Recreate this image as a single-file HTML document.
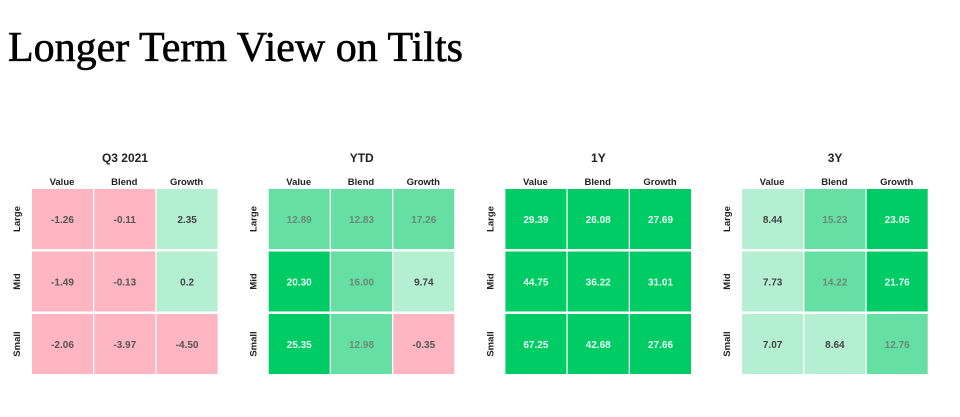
<!DOCTYPE html>
<html><head><meta charset="utf-8"><style>
body{margin:0;width:960px;height:417px;background:#fff;overflow:hidden;font-family:"Liberation Sans",sans-serif;}
h1{position:absolute;left:8px;top:24px;margin:0;font-family:"Liberation Serif",serif;font-weight:normal;font-size:42px;color:#000;-webkit-text-stroke:0.6px #000;}
svg{position:absolute;left:0;top:0;}
</style></head><body>
<h1>Longer Term View on Tilts</h1>
<svg id="chart" width="960" height="417"></svg>
<script>
const panels=["Q3 2021","YTD","1Y","3Y"];
const cols=["Value","Blend","Growth"];
const rows=["Large","Mid","Small"];
const q3=[[-1.26,-0.11,2.35],[-1.49,-0.13,0.2],[-2.06,-3.97,-4.50]];
const ytd=[[12.89,12.83,17.26],[20.30,16.00,9.74],[25.35,12.98,-0.35]];
const y1=[[29.39,26.08,27.69],[44.75,36.22,31.01],[67.25,42.68,27.66]];
const y3=[[8.44,15.23,23.05],[7.73,14.22,21.76],[7.07,8.64,12.76]];
const labels=[["-1.26","-0.11","2.35"],["-1.49","-0.13","0.2"],["-2.06","-3.97","-4.50"]];
const data=[q3,ytd,y1,y3];
const ns="http://www.w3.org/2000/svg";
const svg=document.getElementById('chart');
function px(p,c){return 32+p*236.7+c*62.3;}
function py(r){return 189+r*62.5;}
function style(v){
 if(v<0) return ["#fdb5c2","#555"];
 if(v<10) return ["#b4efd2","#444"];
 if(v<20) return ["#66dfa4","#6a8a78"];
 return ["#00cc66","#e8fff2"];
}
function fmt(p,r,c,v){ if(p===0) return labels[r][c]; return v.toFixed(2); }
function mk(tag,attrs,txt){const e=document.createElementNS(ns,tag);for(const k in attrs)e.setAttribute(k,attrs[k]);if(txt!==undefined)e.textContent=txt;svg.appendChild(e);return e;}
data.forEach((m,p)=>{
 const t=mk('text',{x:px(p,0)+93,y:162,'text-anchor':'middle','font-size':'12','font-weight':'bold',fill:'#222'},panels[p]);
 
 
 cols.forEach((c,ci)=>{
  const e=mk('text',{x:px(p,ci)+30,y:185,'text-anchor':'middle','font-size':'9.5','font-weight':'bold',fill:'#222'},c);
  
  
 });
 rows.forEach((rn,ri)=>{
  const cx=px(p,0)-12, cy=py(ri)+30;
  const e=mk('text',{x:cx,y:cy,'text-anchor':'middle','font-size':'9.5','font-weight':'bold',fill:'#222',transform:`rotate(-90 ${cx} ${cy})`},rn);
  
  
  m[ri].forEach((v,ci)=>{
   const [bg,fg]=style(v);
   const r=mk('rect',{x:px(p,ci),y:py(ri),width:61,height:60,fill:bg});
   
   
   const tx=mk('text',{x:px(p,ci)+30.5,y:py(ri)+34,'text-anchor':'middle','font-size':'10','font-weight':'bold',fill:fg},fmt(p,ri,ci,v));
   
   
  });
 });
});
</script>
</body></html>
